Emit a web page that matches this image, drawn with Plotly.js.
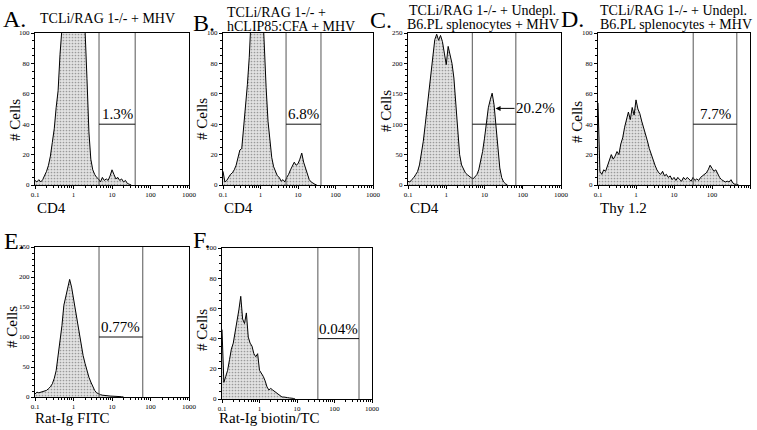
<!DOCTYPE html>
<html><head><meta charset="utf-8">
<script src="https://cdn.plot.ly/plotly-3.0.1.min.js"></script>
<style>html,body{margin:0;padding:0;background:#fff}#chart{width:757px;height:430px}</style>
</head><body><div id="chart"></div>
<script>
// fluorescence channels (log-spaced, 0.1 .. 1000)
const channels = [0.1,0.1122,0.1259,0.1413,0.1585,0.1778,0.1995,0.2239,0.2512,0.2818,
0.3162,0.3548,0.3981,0.4467,0.5012,0.5623,0.631,0.7079,0.7943,0.8913,
1,1.122,1.259,1.413,1.585,1.778,1.995,2.239,2.512,2.818,
3.162,3.548,3.981,4.467,5.012,5.623,6.31,7.079,7.943,8.913,
10,11.22,12.59,14.13,15.85,17.78,19.95,22.39,25.12,28.18,
31.62,35.48,39.81,44.67,50.12,56.23,63.1,70.79,79.43,89.13,
100,112.2,125.9,141.3,158.5,177.8,199.5,223.9,251.2,281.8,
316.2,354.8,398.1,446.7,501.2,562.3,631,707.9,794.3,891.3,1000];

const panelLetters = ['A.','B.','C.','D.','E.','F.'];
const titleLines = [
  ['TCLi/RAG 1-/- + MHV'],
  ['TCLi/RAG 1-/- +','hCLIP85:CFA + MHV'],
  ['TCLi/RAG 1-/- + Undepl.','B6.PL splenocytes + MHV'],
  ['TCLi/RAG 1-/- + Undepl.','B6.PL splenocytes + MHV'],
  [],[]
];
const xTitles = ['CD4','CD4','CD4','Thy 1.2','Rat-Ig FITC','Rat-Ig biotin/TC'];
const yTitle = '# Cells';
const xTickVals = [0.1,1,10,100,1000];
const xTickText = ['0.1','1','10','100','1000'];

// cell counts per channel
const countsA = [3,2,3.5,2,3.5,6,9,13,19,28,37,51,62,86,99,115,140,165,185,200,205,195,180,160,140,120,102,70,35,17,10,7,5,4,2,5,3,4,3,6,10,7,4,5,3,4,2,3,1,0.5,0];
const countsB = [9,2,3,5,7,8,10,13,18,23,24,37,51,66,84,110,140,170,190,180,150,120,95,64,42,29,18,12,9,6,5,2.5,3.5,2,5,7,10,13,15,13,14,17,21,15,11,7,3.5,2,1,0.5,0];
const countsC = [6,5,9,12,17,22,33,50,72,99,127,154,187,220,239,248,238,246,236,217,198,228,212,200,176,132,83,50,33,25,20,17,14,12,10,13,17,25,39,55,77,99,127,140,151,132,94,55,28,12,5,2,0];
const countsD = [54,9,7,10,9,13,16,20,17,19,22,20,27,31,38,44,48,43,51,46,56,50,47,42,38,33,29,24,20,17,13,10,8,7,9,6,7,5,6,3.5,5,3,5,3.5,2.5,5,3.5,5,3.5,2.5,5,3,4,3,5,6,7,8,10,13,11,9,10,7,5,3.5,3,2,2.5,2,3.5,1.3,0.5,0.5,0];
const countsE = [5,8,7,8,9,10,11,14,17,22,31,44,67,92,119,153,169,181,196,183,164,139,125,106,86,69,56,42,33,25,17,11,7,5,4,3,3,2,2,1.6,1.6,1.1,1.1,0.6,0.6,0.5,0];
const countsF = [46,11,15,19,26,33,37,44,50,59,68,53,50,57,41,37,35,30,28,30,19,17,15,12,8,6,7,6,5,4,3,2,1.3,1.3,0.9,0.9,0.7,0.7,0.4,0];
const allCounts = [countsA,countsB,countsC,countsD,countsE,countsF];

// gates
const gateLow = [4.6, 4.8, 4.8, 32, 4.6, 36];
const gateHigh = [40, 41, 66, 450, 63, 450];
const gateLevel = [40, 40, 100, 40, 100, 40];
const gatePercent = ['1.3%','6.8%','20.2%','7.7%','0.77%','0.04%'];

// ---- layout (pixel boxes: left, top, right, bottom) ----
const W = 757, H = 430;
const boxes = [[35,33,189,185],[223,33,373,185],[408,33,561,185],[598,33,750,185],[35,247,189,397],[222,248,372,399]];
const yMax = [100,100,250,100,250,100];
const yDtick = [20,20,50,20,50,20];
const yMinor = [5,5,10,5,10,5];
const px = x => x / W;
const py = y => 1 - y / H;
const SERIF = 'Liberation Serif, Times New Roman, serif';

const minorX = [];
[0.1,1,10,100].forEach(d => { for (let k=2;k<=9;k++) minorX.push(d*k); });

const traces = [];
const layout = {
  width: W, height: H, margin:{l:0,r:0,t:0,b:0},
  paper_bgcolor:'#fff', plot_bgcolor:'#fff', showlegend:false,
  font:{family:SERIF, color:'#000'},
  annotations:[], shapes:[]
};

for (let p=0;p<6;p++){
  const n = p===0 ? '' : String(p+1);
  const xa = 'x'+n, ya = 'y'+n;
  const b = boxes[p];
  layout['xaxis'+n] = {
    type:'log', range:[-1,3], domain:[px(b[0]), px(b[2])], anchor:ya,
    showline:true, linecolor:'#000', linewidth:1, mirror:true,
    ticks:'outside', ticklen:3, tickwidth:1, tickcolor:'#000',
    tickmode:'array', tickvals:xTickVals, ticktext:xTickText,
    tickfont:{size:7, family:SERIF, color:'#000'},
    minor:{tickvals:minorX, ticks:'outside', ticklen:2, tickcolor:'#000'},
    showgrid:false, zeroline:false, fixedrange:true
  };
  layout['yaxis'+n] = {
    range:[0,yMax[p]], domain:[py(b[3]), py(b[1])], anchor:xa,
    showline:true, linecolor:'#000', linewidth:1, mirror:true,
    ticks:'outside', ticklen:3, tickwidth:1, tickcolor:'#000',
    dtick:yDtick[p], tick0:0,
    tickfont:{size:7, family:SERIF, color:'#000'},
    minor:{dtick:yMinor[p], ticks:'outside', ticklen:2, tickcolor:'#000'},
    showgrid:false, zeroline:false, fixedrange:true
  };
  const ys = allCounts[p];
  traces.push({
    type:'scatter', mode:'lines', xaxis:xa, yaxis:ya,
    x: channels.slice(0, ys.length), y: ys,
    fill:'tozeroy', fillcolor:'#e0e0e0',
    fillpattern:{shape:'.', bgcolor:'#e2e2e2', fgcolor:'#9a9a9a', size:3, solidity:0.25},
    line:{color:'#000', width:1}, hoverinfo:'skip'
  });
  // gate
  const lo = gateLow[p], hi = gateHigh[p], lv = gateLevel[p], top = yMax[p];
  traces.push({
    type:'scatter', mode:'lines', xaxis:xa, yaxis:ya,
    x:[lo,lo,null,hi,hi], y:[0,top,null,0,top],
    line:{color:'#555', width:1}, hoverinfo:'skip', cliponaxis:false
  });
  traces.push({
    type:'scatter', mode:'lines', xaxis:xa, yaxis:ya,
    x:[lo,hi], y:[lv,lv],
    line:{color:'#111', width:1}, hoverinfo:'skip'
  });
  // percent label
  if (p === 2) {
    layout.annotations.push({
      xref:xa, yref:ya, x:1.29, y:126, text:gatePercent[p], showarrow:true,
      ax:40, ay:0, arrowhead:2, arrowsize:1, arrowwidth:1, arrowcolor:'#000',
      standoff:0, font:{size:15, family:SERIF, color:'#000'}
    });
  } else {
    layout.annotations.push({
      xref:xa, yref:ya, x:(Math.log10(lo)+Math.log10(hi))/2, y:lv,
      yanchor:'bottom', xanchor:'center', yshift:0,
      text:gatePercent[p], showarrow:false,
      font:{size:15, family:SERIF, color:'#000'}
    });
  }
}

// panel letters: [left, capCenter]
const letterPos = [[1,19],[191,23],[368,20],[559,19],[2,241.5],[191,240]];
letterPos.forEach((lp,i)=>layout.annotations.push({
  xref:'paper', yref:'paper', x:px(lp[0]), y:py(lp[1]), xanchor:'left', yanchor:'middle',
  text:panelLetters[i], showarrow:false, font:{size:24, family:SERIF, color:'#000'}
}));

// titles: per line [left, capCenter, size]
const titlePos = [
  [[38,18.5,14]],
  [[225,12.5,14],[225,26,14]],
  [[407,10.5,14],[405,25,14]],
  [[598,10.5,14],[598,25,14]],
  [],[]
];
titleLines.forEach((lines,i)=>lines.forEach((t,j)=>{
  const tp = titlePos[i][j];
  layout.annotations.push({
    xref:'paper', yref:'paper', x:px(tp[0]), y:py(tp[1]), xanchor:'left', yanchor:'middle',
    text:t, showarrow:false, font:{size:tp[2], family:SERIF, color:'#000'}
  });
}));

// x titles: [left, capCenter]
const xTitlePos = [[35,208],[222,208],[408,208],[598,208],[33,418],[217,418]];
xTitlePos.forEach((xp,i)=>layout.annotations.push({
  xref:'paper', yref:'paper', x:px(xp[0]), y:py(xp[1]), xanchor:'left', yanchor:'middle',
  text:xTitles[i], showarrow:false, font:{size:15, family:SERIF, color:'#000'}
}));

// y titles: [centerX, centerY]
const yTitlePos = [[15,120],[202,119],[386,111],[577,122],[12,327],[202,330]];
yTitlePos.forEach(yp=>layout.annotations.push({
  xref:'paper', yref:'paper', x:px(yp[0]), y:py(yp[1]), xanchor:'center', yanchor:'middle',
  text:yTitle, textangle:-90, showarrow:false, font:{size:15, family:SERIF, color:'#000'}
}));

Plotly.newPlot('chart', traces, layout, {staticPlot:true, displayModeBar:false});
</script></body></html>
